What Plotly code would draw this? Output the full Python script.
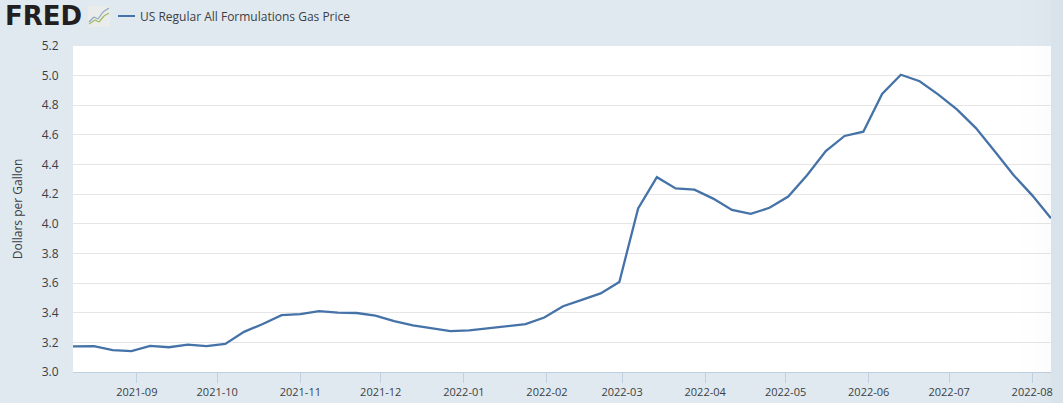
import plotly.graph_objects as go

dates = ["2021-08-02","2021-08-09","2021-08-16","2021-08-23","2021-08-30","2021-09-06","2021-09-13","2021-09-20","2021-09-27",
"2021-10-04","2021-10-11","2021-10-18","2021-10-25","2021-11-01","2021-11-08","2021-11-15","2021-11-22","2021-11-29",
"2021-12-06","2021-12-13","2021-12-20","2021-12-27","2022-01-03","2022-01-10","2022-01-17","2022-01-24","2022-01-31",
"2022-02-07","2022-02-14","2022-02-21","2022-02-28","2022-03-07","2022-03-14","2022-03-21","2022-03-28",
"2022-04-04","2022-04-11","2022-04-18","2022-04-25","2022-05-02","2022-05-09","2022-05-16","2022-05-23","2022-05-30",
"2022-06-06","2022-06-13","2022-06-20","2022-06-27","2022-07-04","2022-07-11","2022-07-18","2022-07-25","2022-08-01","2022-08-08"]
prices = [3.172,3.175,3.175,3.147,3.141,3.176,3.167,3.185,3.175,
3.190,3.271,3.324,3.384,3.391,3.411,3.401,3.398,3.380,
3.343,3.315,3.294,3.276,3.281,3.295,3.306,3.323,3.368,
3.444,3.487,3.530,3.608,4.104,4.315,4.239,4.231,
4.170,4.094,4.067,4.108,4.184,4.328,4.491,4.593,4.622,
4.876,5.006,4.962,4.872,4.771,4.646,4.490,4.330,4.192,4.038]
month_ticks = ["2021-09-01","2021-10-01","2021-11-01","2021-12-01","2022-01-01","2022-02-01","2022-03-01","2022-04-01","2022-05-01","2022-06-01","2022-07-01","2022-08-01"]
month_labels = [m[:7] for m in month_ticks]
y_ticks = [3.0,3.2,3.4,3.6,3.8,4.0,4.2,4.4,4.6,4.8,5.0,5.2]
y_labels = [f"{v:.1f}" for v in y_ticks]
x_range = ["2021-08-08 05:00", "2022-08-08"]
series_name = "US Regular All Formulations Gas Price"
logo_text = "FRED"

W, H = 1063, 403
L, R, T, B = 73, 1051, 46, 372
FONT = "Open Sans, sans-serif"
BLUE = "#4572a7"
INK = "#3a3f44"

def px(x):
    return (x - L) / (R - L)

def py(y):
    return (B - y) / (B - T)

def seg(x0, y0, x1, y1, color, width):
    return dict(type="line", xref="paper", yref="paper", x0=px(x0), x1=px(x1), y0=py(y0), y1=py(y1),
                line=dict(color=color, width=width))

def box(x0, y0, x1, y1, fill, layer="above"):
    return dict(type="rect", xref="paper", yref="paper", x0=px(x0), x1=px(x1), y0=py(y0), y1=py(y1),
                fillcolor=fill, line=dict(width=0), layer=layer)

shapes = [seg(118, 16, 135, 16, BLUE, 2)]
# logo badge
shapes.append(box(88, 6, 110, 27, "#e9ecea"))
for a, b, c, d, col in [(89, 22, 94, 17, "#8fa6c0"), (94, 17, 98, 19, "#8fa6c0"), (98, 19, 103, 12, "#8fa6c0"),
                        (103, 12, 109, 8, "#8fa6c0"), (89, 24, 95, 20, "#9dbb5e"), (95, 20, 99, 22, "#9dbb5e"),
                        (99, 22, 104, 16, "#9dbb5e"), (104, 16, 109, 13, "#9dbb5e")]:
    shapes.append(seg(a, b, c, d, col, 1.2))
# soft fade towards the right edge of the window
for x0, alpha in [(1020, 0.002), (1035, 0.003), (1045, 0.004)]:
    shapes.append(box(x0, 0, 1051, 403, f"rgba(120,60,60,{alpha})"))
shapes.append(box(1051, 0, 1063, 403, "#d9e3eb", layer="below"))

fig = go.Figure(go.Scatter(x=dates, y=prices, mode="lines", line=dict(color=BLUE, width=2.3), hoverinfo="x+y", showlegend=False))
fig.update_layout(
    width=W, height=H, autosize=False,
    margin=dict(l=L, r=W-R, t=T, b=H-B, autoexpand=False),
    paper_bgcolor="#e1e9f0", plot_bgcolor="#ffffff",
    font=dict(family=FONT, size=11, color=INK),
    xaxis=dict(range=x_range, tickmode="array", tickvals=month_ticks, ticktext=month_labels,
               automargin=False,
               showgrid=False, zeroline=False, showline=True, linecolor="#c0d0e0", linewidth=1,
               ticks="outside", ticklen=10, tickcolor="#c0d0e0", tickwidth=1,
               tickfont=dict(family=FONT, size=11, color=INK)),
    yaxis=dict(range=[3.0, 5.2], tickmode="array", tickvals=y_ticks, ticktext=y_labels,
               automargin=False,
               showgrid=True, gridcolor="#e6e6e6", gridwidth=1, zeroline=False, showline=False,
               ticks="outside", ticklen=11, tickcolor="rgba(0,0,0,0)", tickfont=dict(family=FONT, size=12, color=INK),
               title=dict(text="Dollars per Gallon", font=dict(family=FONT, size=12, color=INK), standoff=16)),
    shapes=shapes,
    annotations=[
        dict(text=series_name, xref="paper", yref="paper", x=px(138), y=py(16.5), xanchor="left", yanchor="middle",
             showarrow=False, font=dict(family=FONT, size=12, color=INK)),
        dict(text=f"<b>{logo_text}</b>", xref="paper", yref="paper", x=px(3), y=py(16.5), xanchor="left", yanchor="middle",
             showarrow=False, font=dict(family="DejaVu Sans", size=26, color="#231f20")),
    ],
)
fig.write_html("out.html", config=dict(displayModeBar=False),
               post_script="document.body.style.margin='0';document.documentElement.style.overflow='hidden';")
